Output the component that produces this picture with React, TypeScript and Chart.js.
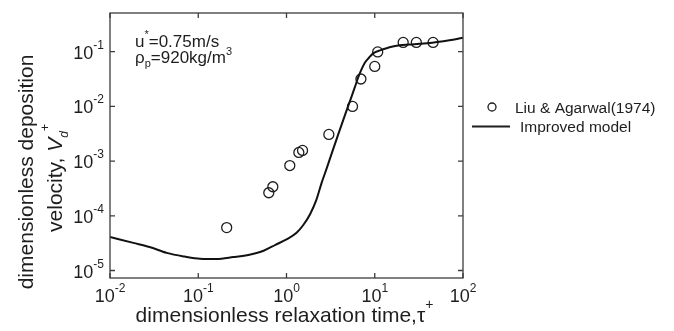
import React, { useEffect, useRef } from "react";
import { Chart, registerables } from "chart.js";

Chart.register(...registerables);

// ---- data ----
const curveTau = [0.01, 0.0184, 0.028, 0.044, 0.07, 0.105, 0.16, 0.25, 0.38, 0.55, 0.75, 1.0, 1.3, 1.55, 1.85, 2.19, 2.5, 2.84, 3.1, 3.38, 3.9, 4.39, 4.9, 5.46, 6.0, 6.49, 7.1, 7.72, 8.6, 9.6, 11.5, 13.6, 16, 19.2, 25, 32, 42, 60, 80, 100];
const curveVd = [4.1e-5, 3.2e-5, 2.7e-5, 2.1e-5, 1.8e-5, 1.64e-5, 1.62e-5, 1.76e-5, 1.95e-5, 2.3e-5, 2.95e-5, 3.7e-5, 4.9e-5, 6.8e-5, 1.07e-4, 2.0e-4, 4.0e-4, 7.2e-4, 1.1e-3, 1.66e-3, 3.24e-3, 5.6e-3, 9.3e-3, 0.0151, 0.0234, 0.0339, 0.048, 0.063, 0.0776, 0.0933, 0.106, 0.116, 0.124, 0.131, 0.135, 0.14, 0.144, 0.155, 0.167, 0.18];

const dataTau = [0.21, 0.63, 0.70, 1.09, 1.38, 1.52, 3.02, 5.6, 6.97, 10.0, 10.8, 21, 29.6, 45.8];
const dataVd = [6.1e-5, 2.64e-4, 3.4e-4, 8.3e-4, 1.44e-3, 1.57e-3, 3.08e-3, 0.01, 0.0317, 0.0538, 0.099, 0.148, 0.148, 0.148];

const xTicks = [0.01, 0.1, 1, 10, 100];
const xTickExp = ["-2", "-1", "0", "1", "2"];
const yTicks = [1e-5, 1e-4, 1e-3, 1e-2, 1e-1];
const yTickExp = ["-5", "-4", "-3", "-2", "-1"];

const seriesLabels = ["Liu & Agarwal(1974)", "Improved model"];

const FF = '"Liberation Sans", Arial, Helvetica, sans-serif';
const INK = "#1e1e1e";

type Run = { t: string; size: number; dy?: number; style?: string };

function font(r: Run) {
  return `${r.style ? r.style + " " : ""}${r.size}px ${FF}`;
}
function runsWidth(ctx: CanvasRenderingContext2D, runs: Run[]) {
  let w = 0;
  for (const r of runs) {
    ctx.font = font(r);
    w += ctx.measureText(r.t).width;
  }
  return w;
}
function drawRuns(ctx: CanvasRenderingContext2D, x: number, y: number, runs: Run[]) {
  let cx = x;
  ctx.textAlign = "left";
  ctx.textBaseline = "alphabetic";
  for (const r of runs) {
    ctx.font = font(r);
    ctx.fillText(r.t, cx, y + (r.dy || 0));
    cx += ctx.measureText(r.t).width;
  }
}

const decor = {
  id: "decor",
  afterDraw(chart: any) {
    const ctx: CanvasRenderingContext2D = chart.ctx;
    const { left, right, top, bottom } = chart.chartArea;
    const xs = chart.scales.x;
    const ys = chart.scales.y;
    ctx.save();
    // frame
    ctx.strokeStyle = "#3c3c3c";
    ctx.lineWidth = 1.3;
    ctx.strokeRect(left, top, right - left, bottom - top);
    // inward ticks
    ctx.beginPath();
    xTicks.forEach((v) => {
      const px = xs.getPixelForValue(v);
      ctx.moveTo(px, bottom);
      ctx.lineTo(px, bottom - 5);
      ctx.moveTo(px, top);
      ctx.lineTo(px, top + 5);
    });
    yTicks.forEach((v) => {
      const py = ys.getPixelForValue(v);
      ctx.moveTo(left, py);
      ctx.lineTo(left + 5, py);
      ctx.moveTo(right, py);
      ctx.lineTo(right - 5, py);
    });
    ctx.stroke();

    ctx.fillStyle = INK;
    // x tick labels
    xTicks.forEach((v, i) => {
      const px = xs.getPixelForValue(v);
      const runs: Run[] = [{ t: "10", size: 18 }, { t: xTickExp[i], size: 12, dy: -10 }];
      const w = runsWidth(ctx, runs);
      drawRuns(ctx, px - w / 2, bottom + 24, runs);
    });
    // y tick labels
    yTicks.forEach((v, i) => {
      const py = ys.getPixelForValue(v);
      const runs: Run[] = [{ t: "10", size: 18 }, { t: yTickExp[i], size: 12, dy: -10 }];
      const w = runsWidth(ctx, runs);
      drawRuns(ctx, left - 6 - w, py + 7, runs);
    });

    // x title
    const xt: Run[] = [{ t: "dimensionless relaxation time,τ", size: 21 }, { t: "+", size: 14, dy: -13 }];
    const xw = runsWidth(ctx, xt);
    drawRuns(ctx, (left + right) / 2 - 2 - xw / 2, 322, xt);

    // y title (two lines, rotated)
    ctx.save();
    ctx.translate(33, 172);
    ctx.rotate(-Math.PI / 2);
    const l1: Run[] = [{ t: "dimensionless deposition", size: 21 }];
    const w1 = runsWidth(ctx, l1);
    drawRuns(ctx, -w1 / 2, 0, l1);
    ctx.restore();
    ctx.save();
    ctx.translate(62, 178);
    ctx.rotate(-Math.PI / 2);
    const l2: Run[] = [
      { t: "velocity, ", size: 21 },
      { t: "V", size: 21, style: "italic" },
      { t: "d", size: 12, style: "italic", dy: 6 },
      { t: "+", size: 12, dy: -13 },
    ];
    const w2 = runsWidth(ctx, l2);
    drawRuns(ctx, -w2 / 2, 0, l2);
    ctx.restore();

    // annotation
    drawRuns(ctx, 135, 47, [
      { t: "u", size: 17 },
      { t: "*", size: 11, dy: -9 },
      { t: "=0.75m/s", size: 17 },
    ]);
    drawRuns(ctx, 135, 63, [
      { t: "ρ", size: 17 },
      { t: "p", size: 11, dy: 4 },
      { t: "=920kg/m", size: 17 },
      { t: "3", size: 11, dy: -8 },
    ]);

    // legend
    ctx.strokeStyle = INK;
    ctx.lineWidth = 1.3;
    ctx.beginPath();
    ctx.arc(492, 107, 4, 0, Math.PI * 2);
    ctx.stroke();
    drawRuns(ctx, 515, 113, [{ t: seriesLabels[0], size: 15.5 }]);
    ctx.lineWidth = 2;
    ctx.beginPath();
    ctx.moveTo(472, 126.5);
    ctx.lineTo(510, 126.5);
    ctx.stroke();
    drawRuns(ctx, 520, 132, [{ t: seriesLabels[1], size: 15.5 }]);

    ctx.restore();
  },
};

export default function App() {
  const ref = useRef<HTMLCanvasElement>(null);
  useEffect(() => {
    if (!ref.current) return;
    const chart = new Chart(ref.current, {
      type: "scatter",
      data: {
        datasets: [
          {
            label: seriesLabels[1],
            data: curveTau.map((x, i) => ({ x, y: curveVd[i] })),
            showLine: true,
            pointRadius: 0,
            borderColor: "#111",
            borderWidth: 2,
            cubicInterpolationMode: "monotone",
            fill: false,
          } as any,
          {
            label: seriesLabels[0],
            data: dataTau.map((x, i) => ({ x, y: dataVd[i] })),
            showLine: false,
            pointStyle: "circle",
            pointRadius: 5,
            pointBorderWidth: 1.3,
            pointBackgroundColor: "rgba(0,0,0,0)",
            pointBorderColor: INK,
            borderColor: INK,
          } as any,
        ],
      },
      options: {
        animation: false,
        responsive: false,
        events: [],
        layout: { padding: { left: 110, top: 13, right: 211, bottom: 53 } },
        plugins: { legend: { display: false }, tooltip: { enabled: false } },
        scales: {
          x: { type: "logarithmic", min: 0.01, max: 100, display: false },
          y: { type: "logarithmic", min: 7.3e-6, max: 0.51, display: false },
        },
      },
      plugins: [decor],
    });
    return () => chart.destroy();
  }, []);
  return (
    <div style={{ position: "absolute", left: 0, top: 0, width: 674, height: 331, background: "#fff" }}>
      <canvas ref={ref} width={674} height={331} style={{ display: "block" }} />
    </div>
  );
}
